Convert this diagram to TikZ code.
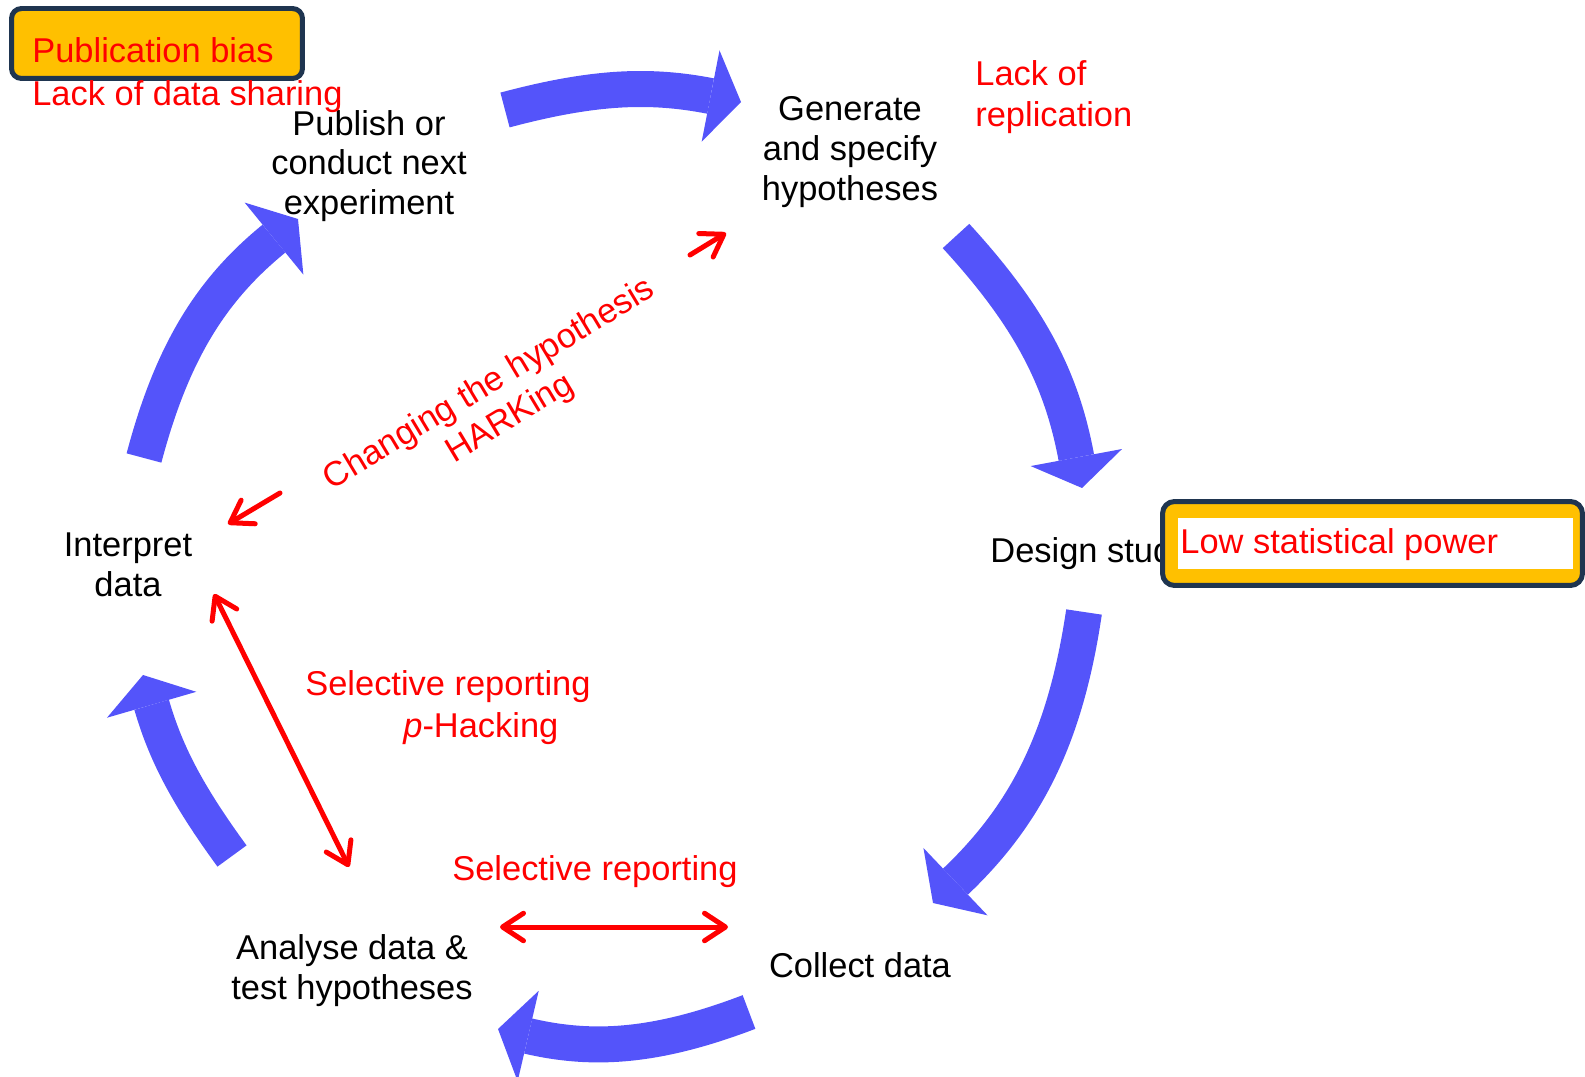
\documentclass[tikz,border=0pt]{standalone}
\usepackage{fontspec}
\setmainfont{Liberation Sans}
\usetikzlibrary{calc,arrows.meta}
\definecolor{cycblue}{RGB}{84,84,250}
\definecolor{flagorange}{RGB}{255,192,0}
\definecolor{flagnavy}{RGB}{31,53,80}
\tikzset{cyc/.style={draw=cycblue, line width=0.72cm, -{Triangle[length=0.62cm, width=1.86cm, line width=0pt]}}}
\tikzset{flaw/.style={draw=red, line width=0.1cm, line cap=round}}

\begin{document}
\begin{tikzpicture}[x=0.02cm, y=-0.02cm, >={Straight Barb[length=0.42cm, width=0.55cm, round]}]
\tikzstyle{stage} = [inner sep=0, align=center, font=\fontsize{19.6}{22.7}\selectfont]
\tikzstyle{issue} = [stage, text=red, align=left]
\tikzstyle{flag} = [rectangle, rounded corners=0.2cm, draw=flagnavy, line width=0.1cm, fill=flagorange, inner sep=0]
\useasboundingbox (0,0) rectangle (1585,1077);
\clip (0,0) rectangle (1585,1077);

% stages of the cycle
\node [stage](gen) at (850,152){Generate\\and specify\\hypotheses};
\node [stage](des) at (1090,554){Design study};
\node [stage](col) at (860,965){Collect data};
\node [stage](ana) at (352,971){Analyse data \&\\test hypotheses};
\node [stage](int) at (128,565){Interpret\\data};
\node [stage](pub) at (369,166){Publish or\\conduct next\\experiment};

% blue cycle arrows
\draw [cyc] ($(pub)+(136,-56)$) to[bend left=13] ($(gen)+(-109,-50)$);
\draw [cyc] ($(gen)+(106,84)$) to[bend left=16] ($(des)+(-8,-66)$);
\draw [cyc] ($(des)+(-6,58)$) to[bend left=19] ($(col)+(73,-62)$);
\draw [cyc] ($(col)+(-111,47)$) to[bend left=17] ($(ana)+(146,58)$);
\draw [cyc] ($(ana)+(-120,-115)$) to[bend left=10] ($(int)+(15,110)$);
\draw [cyc] ($(int)+(16,-107)$) to[bend left=18] ($(pub)+(-71,53)$);

% problems
\node [flag, minimum width=5.82cm, minimum height=1.4cm](pbox) at (157,43.5){};
\node [issue, anchor=base west](pbias) at (32,63){Publication bias};
\node [issue, anchor=base west](share) at (32,106){Lack of data sharing};
\node [issue, anchor=north west](repl) at (975,60){Lack of\\[1pt]replication};

\node [flag, rounded corners=0.24cm, minimum width=8.4cm, minimum height=1.68cm](lbox) at (1372.5,543.5){};
\node [fill=white, minimum width=7.9cm, minimum height=1.02cm, inner sep=0](lwhite) at (1375.5,543.5){};
\node [issue, anchor=base west](power) at (1180,553){Low statistical power};

\node [issue, align=center, rotate=31](hark) at (500,402){Changing the hypothesis\\HARKing};
\node [issue, anchor=base west](sel1) at (305,695){Selective reporting};
\node [issue, anchor=base west](phack) at (403,737){\textit{p}-Hacking};
\node [issue, anchor=base west](sel2) at (452,880){Selective reporting};

% red arrows
\draw [flaw, ->] ($(hark)+(190,-147)$) -- ($(gen)+(-124,81)$);
\draw [flaw, ->] ($(hark)+(-220,91)$) -- ($(int)+(100,-41)$);
\draw [flaw, <->] ($(int)+(86,29)$) -- ($(ana)+(-3,-104)$);
\draw [flaw, <->] ($(ana)+(148,-44)$) -- ($(col)+(-132,-38)$);

\end{tikzpicture}
\end{document}
